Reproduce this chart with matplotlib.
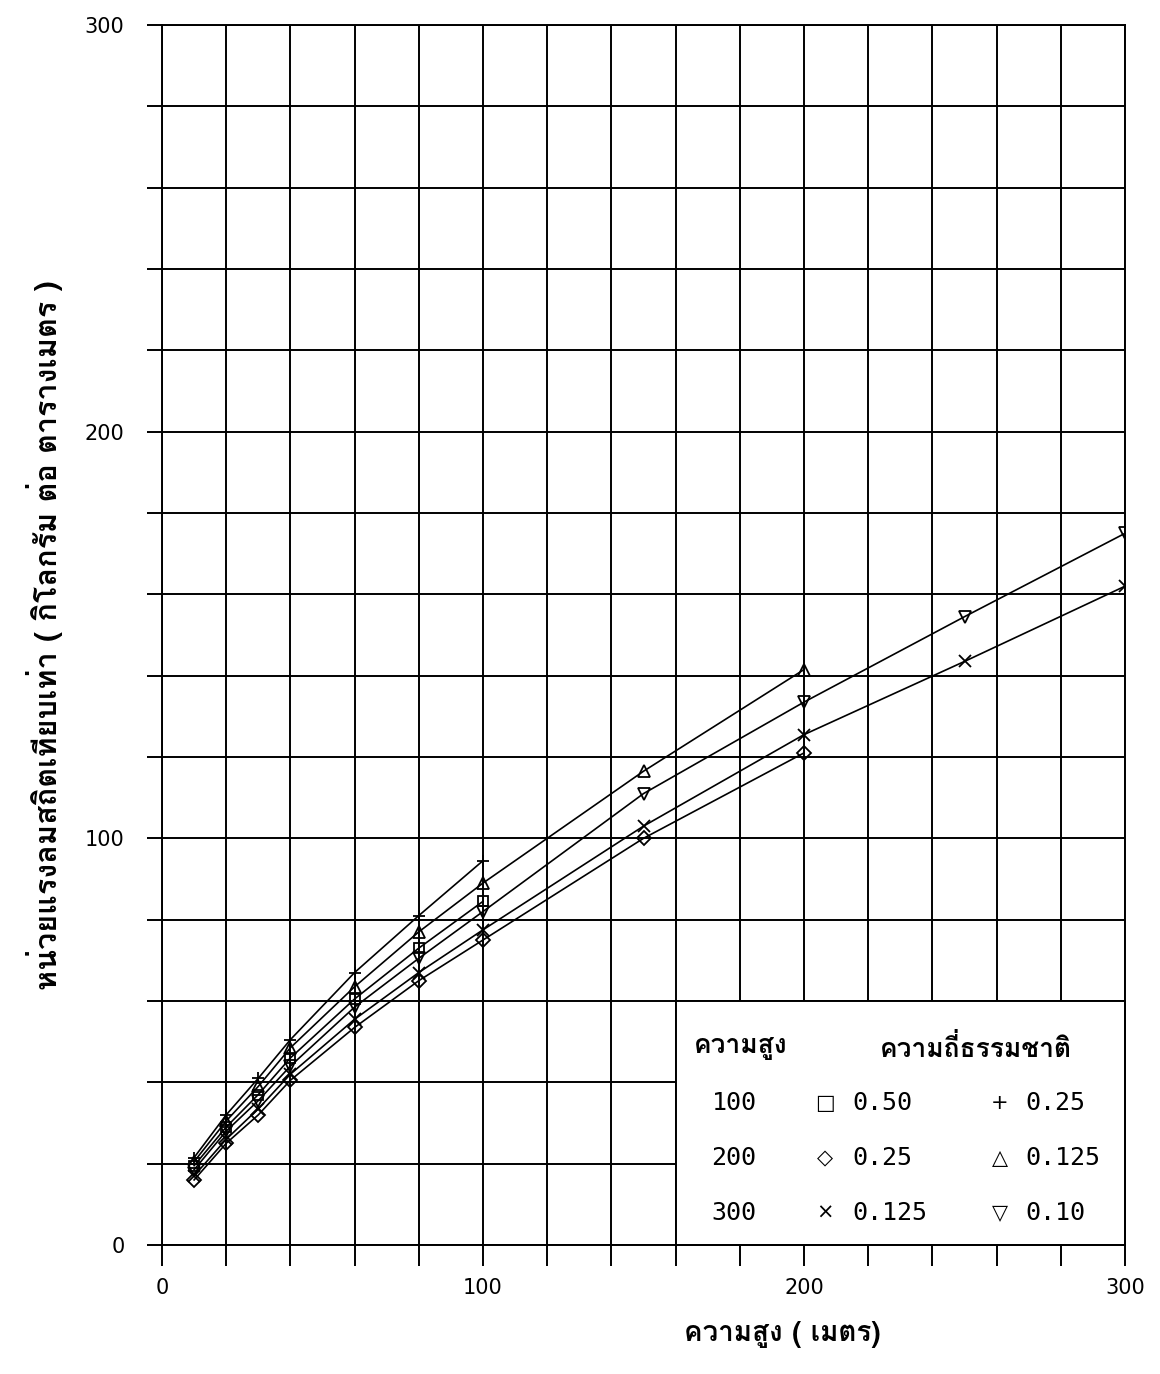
import matplotlib
matplotlib.use("Agg")
import matplotlib.pyplot as plt
import matplotlib.font_manager as fm
from matplotlib.ft2font import FT2Font
from matplotlib.ticker import MultipleLocator

# ---------------- data ----------------
x_h100 = [10, 20, 30, 40, 60, 80, 100]
x_h200 = [10, 20, 30, 40, 60, 80, 100, 150, 200]
x_h300 = [10, 20, 30, 40, 60, 80, 100, 150, 200, 250, 300]

p_h100_f050 = [19.5, 29, 37, 46, 60.5, 73, 84.5]          # square
p_h100_f025 = [21.5, 32, 41, 50.5, 67, 81, 94.5]          # plus
p_h200_f025 = [16, 25, 32, 40.5, 53.5, 65, 75, 100, 121]  # diamond
p_h200_f0125 = [20.5, 30.5, 39, 48.5, 63.5, 77, 89, 116.5, 141.5]  # triangle up
p_h300_f0125 = [17, 26, 33.5, 42, 55.5, 67, 77.5, 103, 125.5, 143.5, 162]  # x
p_h300_f010 = [18.5, 28, 35.5, 44, 58.5, 70.5, 82, 111, 133.5, 154.5, 175]  # triangle down

x_ticks = [0, 100, 200, 300]
y_ticks = [0, 100, 200, 300]

legend_heights = ["100", "200", "300"]
legend_mark2 = ["\u25A1", "\u25C7", "\u00D7"]
legend_num2 = ["0.50", "0.25", "0.125"]
legend_mark3 = ["+", "\u25B3", "\u25BD"]
legend_num3 = ["0.25", "0.125", "0.10"]

xlabel = "ความสูง ( เมตร)"
ylabel = "หน่วยแรงลมสถิตเทียบเท่า ( กิโลกรัม ต่อ ตารางเมตร )"
leg_head1 = "ความสูง"
leg_head2 = "ความถี่ธรรมชาติ"

# ---------------- fonts ----------------
thai = []
for f in fm.fontManager.ttflist:
    try:
        if 0x0E01 in FT2Font(f.fname).get_charmap():
            if f.name not in thai:
                thai.append(f.name)
    except Exception:
        pass
pick = "Loma" if "Loma" in thai else (thai[0] if thai else "DejaVu Sans")
thai_family = [pick, "DejaVu Sans"]

W, H = 1160, 1374
fig = plt.figure(figsize=(W / 100, H / 100), dpi=100)
L, R, T, B = 162, 1125, 25, 1245
ax = fig.add_axes([L / W, 1 - B / H, (R - L) / W, (B - T) / H])

series = [
    (x_h100, p_h100_f050, "s"),
    (x_h100, p_h100_f025, "+"),
    (x_h200, p_h200_f025, "D"),
    (x_h200, p_h200_f0125, "^"),
    (x_h300, p_h300_f0125, "x"),
    (x_h300, p_h300_f010, "v"),
]
for xs, ys, m in series:
    ms = 7 if m in ("s", "D") else 9
    ax.plot(xs, ys, color="black", lw=1.2, marker=m, ms=ms,
            mfc="none", mec="black", mew=1.3, zorder=3)

ax.set_xlim(0, 300)
ax.set_ylim(0, 300)
ax.xaxis.set_minor_locator(MultipleLocator(20))
ax.yaxis.set_minor_locator(MultipleLocator(20))
ax.set_xticks(x_ticks)
ax.set_yticks(y_ticks)
ax.grid(True, which="both", color="black", lw=1.4, zorder=1)
ax.set_axisbelow(True)
for s in ax.spines.values():
    s.set_linewidth(1.4)
ax.tick_params(axis="y", which="both", direction="out", length=11, width=1.4, color="black")
ax.tick_params(axis="x", which="both", direction="out", length=15, width=1.4, color="black")
ax.tick_params(axis="y", which="major", labelsize=15, pad=16)
ax.tick_params(axis="x", which="major", labelsize=15, pad=9)

# legend box (covers grid region x 160..300, y 0..60)
ax.fill_between([160, 300], 0, 60, facecolor="white", edgecolor="black", lw=1.4, zorder=2)

def ftxt(px, py, s, **kw):
    fig.text(px / W, 1 - py / H, s, **kw)

ftxt(741, 1048, leg_head1, ha="center", va="center", fontsize=19,
     fontweight="bold", family=thai_family)
ftxt(976, 1048, leg_head2, ha="center", va="center", fontsize=19,
     fontweight="bold", family=thai_family)
rows_y = [1103, 1158, 1213]
for i, yy in enumerate(rows_y):
    ftxt(734, yy, legend_heights[i], ha="center", va="center", fontsize=18,
         family="DejaVu Sans Mono")
    ftxt(825, yy, legend_mark2[i], ha="center", va="center", fontsize=15,
         family="DejaVu Sans")
    ftxt(852, yy, legend_num2[i], ha="left", va="center", fontsize=18,
         family="DejaVu Sans Mono")
    ftxt(1000, yy, legend_mark3[i], ha="center", va="center", fontsize=15,
         family="DejaVu Sans")
    ftxt(1025, yy, legend_num3[i], ha="left", va="center", fontsize=18,
         family="DejaVu Sans Mono")

ftxt(782, 1335, xlabel, ha="center", va="center", fontsize=20,
     fontweight="bold", family=thai_family)
ftxt(45, 635, ylabel, ha="center", va="center", fontsize=22, rotation=90,
     fontweight="bold", family=thai_family)

fig.savefig("out.png", dpi=100, facecolor="white")
